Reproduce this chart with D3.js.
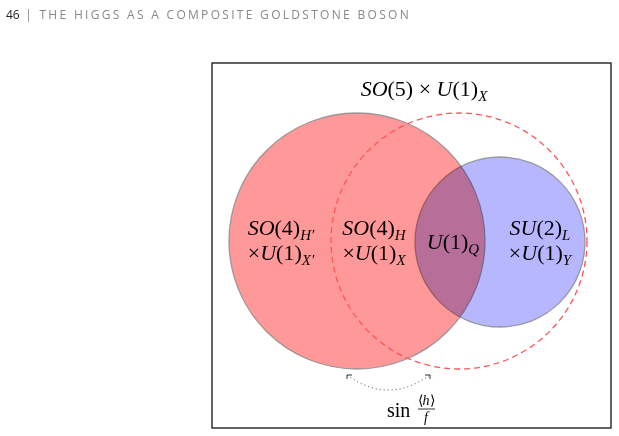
<!DOCTYPE html>
<html>
<head>
<meta charset="utf-8">
<script src="https://cdn.jsdelivr.net/npm/d3@7"></script>
<style>
  body { margin: 0; background: #fff; }
  text { font-family: "Liberation Serif", serif; }
</style>
</head>
<body>
<svg id="chart" width="619" height="436"></svg>
<script>
// diagram units: frame is 0..400 wide, 0..365 tall
var circleNames = ['SO(4)_H\'', 'SO(4)_H rotated', 'SU(2)_L'];
var circleCx = [145, 247, 288];
var circleCy = [178, 178, 179];
var circleR = [128, 128, 85];
var circleFill = ['#ff8080', 'none', '#9999ff'];
var circleStroke = ['#888', '#ff5555', '#888'];

var labelX = [69, 162, 241, 328];
var labelLines = [
  [['SO(4)', 'H′'], ['×U(1)', 'X′']],
  [['SO(4)', 'H'], ['×U(1)', 'X']],
  [['U(1)', 'Q']],
  [['SU(2)', 'L'], ['×U(1)', 'Y']]
];

var svg = d3.select('#chart');

svg.append('text')
  .attr('x', 6).attr('y', 19)
  .attr('fill', '#888')
  .style('font-family', '"Open Sans", sans-serif')
  .style('font-size', '12px')
  .style('letter-spacing', '2.3px')
  .html('<tspan fill="#222" style="letter-spacing:0">46</tspan>  |  THE HIGGS AS A COMPOSITE GOLDSTONE BOSON');

var x = d3.scaleLinear().domain([0, 400]).range([212, 612]);
var y = d3.scaleLinear().domain([0, 365]).range([63, 428]);

svg.append('rect')
  .attr('x', x(0)).attr('y', y(0))
  .attr('width', x(400) - x(0) - 1).attr('height', y(365) - y(0))
  .attr('fill', 'none').attr('stroke', '#111').attr('stroke-width', 1.3);

var idx = d3.range(circleNames.length);
svg.selectAll('circle.set')
  .data(idx).enter().append('circle')
  .attr('class', 'set')
  .attr('cx', function(i) { return x(circleCx[i]); })
  .attr('cy', function(i) { return y(circleCy[i]); })
  .attr('r', function(i) { return x(circleR[i]) - x(0); })
  .attr('fill', function(i) { return circleFill[i]; })
  .attr('fill-opacity', function(i) { return i == 2 ? 0.7 : 0.8; })
  .attr('stroke', function(i) { return circleStroke[i]; })
  .attr('stroke-opacity', function(i) { return i == 1 ? 1 : 0.8; })
  .attr('stroke-width', 1.3)
  .attr('stroke-dasharray', function(i) { return i == 1 ? '6,4' : null; })
  .style('mix-blend-mode', function(i) { return i == 2 ? 'multiply' : null; });

// dotted arc with small arrow ticks
svg.append('path')
  .attr('d', 'M' + x(135) + ',' + y(312) + ' Q' + x(176) + ',' + y(342) + ' ' + x(218) + ',' + y(312))
  .attr('fill', 'none').attr('stroke', '#444').attr('stroke-width', 1)
  .attr('stroke-dasharray', '1,3');
[[135, 1], [218, -1]].forEach(function(a) {
  svg.append('path')
    .attr('d', 'M' + x(a[0]) + ',' + (y(312) + 4) + ' L' + x(a[0]) + ',' + y(312) + ' L' + (x(a[0]) + 5 * a[1]) + ',' + y(312))
    .attr('fill', 'none').attr('stroke', '#333').attr('stroke-width', 1);
});

// title
var t = svg.append('text')
  .attr('x', x(212)).attr('y', y(33)).attr('text-anchor', 'middle')
  .style('font-size', '22px');
t.append('tspan').style('font-style', 'italic').text('SO');
t.append('tspan').text('(5) × ');
t.append('tspan').style('font-style', 'italic').text('U');
t.append('tspan').text('(1)');
t.append('tspan').attr('dy', 5).style('font-size', '15px').style('font-style', 'italic').text('X');

labelLines.forEach(function(lines, k) {
  lines.forEach(function(ln, j) {
    var yy = lines.length == 1 ? 186 : 172 + j * 25;
    var tx = svg.append('text').attr('x', x(labelX[k])).attr('y', y(yy))
      .attr('text-anchor', 'middle').style('font-size', '22px');
    var m = ln[0].match(/^(×?)([A-Z]+)(.*)$/);
    tx.append('tspan').text(m[1]);
    tx.append('tspan').style('font-style', 'italic').text(m[2]);
    tx.append('tspan').text(m[3]);
    tx.append('tspan').attr('dy', 5).style('font-size', '15px').style('font-style', 'italic').text(ln[1]);
  });
});

// sin <h>/f
svg.append('text').attr('x', x(175)).attr('y', y(354)).style('font-size', '20px').text('sin');
svg.append('text').attr('x', x(214)).attr('y', y(342)).attr('text-anchor', 'middle')
  .style('font-size', '14px').html('⟨<tspan font-style="italic">h</tspan>⟩');
svg.append('line').attr('x1', x(206)).attr('x2', x(223)).attr('y1', y(346)).attr('y2', y(346))
  .attr('stroke', '#000').attr('stroke-width', 0.8);
svg.append('text').attr('x', x(214)).attr('y', y(359)).attr('text-anchor', 'middle')
  .style('font-size', '14px').style('font-style', 'italic').text('f');
</script>
</body>
</html>
